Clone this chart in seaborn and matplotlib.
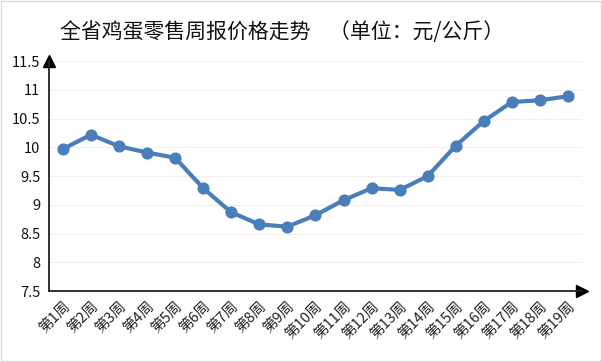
import matplotlib
matplotlib.use("Agg")
import matplotlib.pyplot as plt
import seaborn as sns
import pandas as pd

weeks = [f"第{i}周" for i in range(1, 20)]
prices = [9.97, 10.22, 10.02, 9.91, 9.82, 9.29, 8.87, 8.66, 8.62, 8.82,
          9.08, 9.29, 9.26, 9.50, 10.03, 10.46, 10.79, 10.82, 10.89]
y_ticks = [7.5, 8, 8.5, 9, 9.5, 10, 10.5, 11, 11.5]
y_labels = ["7.5", "8", "8.5", "9", "9.5", "10", "10.5", "11", "11.5"]

sns.set_theme(style="white")
plt.rcParams['font.family'] = ['Noto Sans CJK SC', 'DejaVu Sans']

df = pd.DataFrame({"week": weeks, "price": prices, "idx": range(len(weeks))})

fig = plt.figure(figsize=(6.02, 3.62), dpi=100)
ax = fig.add_axes([0.081, 0.196, 0.886, 0.635])

for y in y_ticks[1:]:
    ax.axhline(y, color="#f0f0f0", lw=0.8, zorder=0)

sns.lineplot(data=df, x="idx", y="price", ax=ax, color="#4a7ebb", lw=3,
             marker="o", markersize=8, markeredgecolor="#4a7ebb")

ax.set_xlim(-0.5, 18.5)
ax.set_ylim(7.5, 11.5)
ax.set_xticks(range(len(weeks)))
ax.set_xticklabels(weeks, rotation=45, ha="right", rotation_mode="anchor",
                   fontsize=10.5, color="#222222")
ax.set_yticks(y_ticks)
ax.set_yticklabels(y_labels, fontsize=10.5, color="#111111")
ax.tick_params(axis="both", length=0, pad=6)
ax.set_xlabel("")
ax.set_ylabel("")

for side in ["top", "right"]:
    ax.spines[side].set_visible(False)
for side in ["left", "bottom"]:
    ax.spines[side].set_color("#222222")
    ax.spines[side].set_linewidth(1.3)

# arrow heads on the axes
ax.plot(1, 0, ">", color="black", markersize=9, transform=ax.transAxes, clip_on=False)
ax.plot(0, 1, "^", color="black", markersize=9, transform=ax.transAxes, clip_on=False)

fig.text(0.1, 0.912, "全省鸡蛋零售周报价格走势    （单位：元/公斤）",
         fontsize=15, color="#111111", va="center")

fig.patches.append(plt.Rectangle((0.002, 0.002), 0.996, 0.996, transform=fig.transFigure,
                                 fill=False, edgecolor="#d9d9d9", lw=1))

fig.savefig("out.png", dpi=100)
